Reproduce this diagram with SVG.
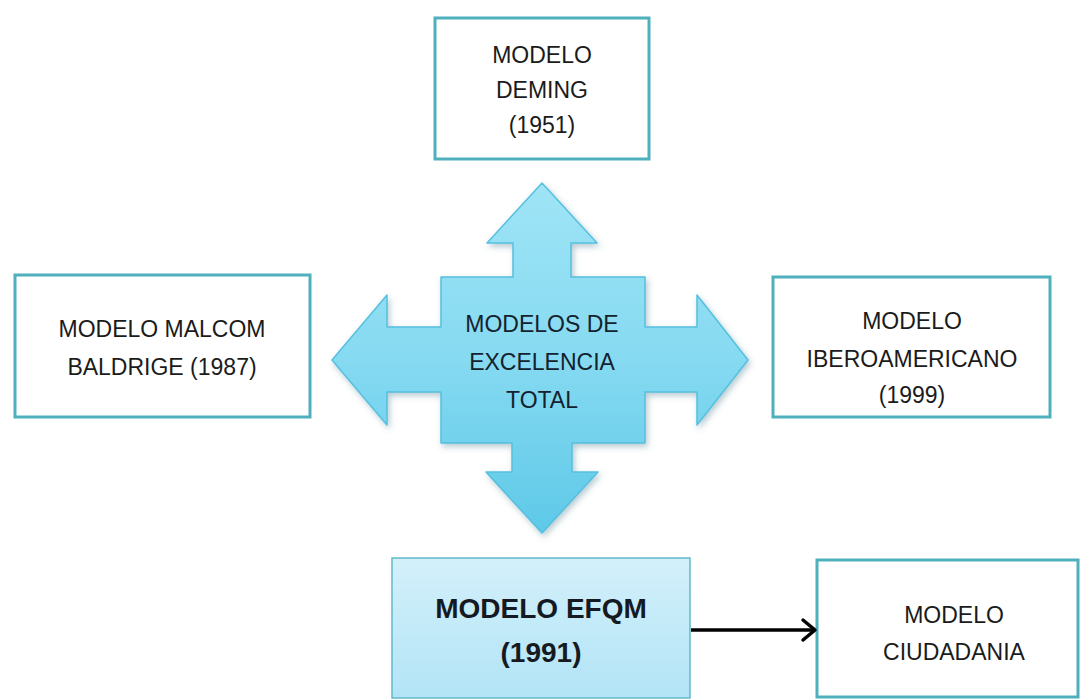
<svg xmlns="http://www.w3.org/2000/svg" width="1083" height="700" viewBox="0 0 1083 700">
<defs>
<linearGradient id="crossGrad" x1="0" y1="0" x2="0" y2="1">
<stop offset="0" stop-color="#9fe4f6"/>
<stop offset="0.5" stop-color="#86daf1"/>
<stop offset="1" stop-color="#5ec9e8"/>
</linearGradient>
<linearGradient id="efqmGrad" x1="0" y1="0" x2="0" y2="1">
<stop offset="0" stop-color="#d3f0fa"/>
<stop offset="1" stop-color="#b2e4f6"/>
</linearGradient>
<filter id="shadow" x="-20%" y="-20%" width="140%" height="140%">
<feDropShadow dx="2" dy="3" stdDeviation="3" flood-color="#5a8a99" flood-opacity="0.45"/>
</filter>
</defs>
<style>
.box{fill:#ffffff;stroke:#4fb0bd;stroke-width:3}
.t{font-family:"Liberation Sans",Arial,sans-serif;font-size:23px;fill:#1b1b1b;text-anchor:middle}
.tb{font-family:"Liberation Sans",Arial,sans-serif;font-size:28px;font-weight:bold;fill:#151a22;text-anchor:middle}
.ct{font-family:"Liberation Sans",Arial,sans-serif;font-size:23px;fill:#14222e;text-anchor:middle}
</style>
<rect width="1083" height="700" fill="#ffffff"/>

<g id="center">
<path filter="url(#shadow)" fill="url(#crossGrad)" stroke="#56c0df" stroke-width="1.5" stroke-linejoin="round" d="M542,183 L597,243 L571,243 L571,277 L645,277 L645,327 L697,327 L697,295 L748,360 L697,425 L697,392 L645,392 L645,443 L572,443 L572,472 L598,472 L542,533 L486,472 L512,472 L512,443 L441,443 L441,392 L387,392 L387,425 L332,360 L387,295 L387,327 L441,327 L441,277 L513,277 L513,243 L487,243 Z"/>
<text class="ct" x="542" y="332">MODELOS DE</text>
<text class="ct" x="542" y="370">EXCELENCIA</text>
<text class="ct" x="542" y="408">TOTAL</text>
</g>

<g id="deming">
<rect class="box" x="435" y="18" width="214" height="141"/>
<text class="t" x="542" y="63">MODELO</text>
<text class="t" x="542" y="98">DEMING</text>
<text class="t" x="542" y="133">(1951)</text>
</g>

<g id="malcom">
<rect class="box" x="15" y="275" width="295" height="142"/>
<text class="t" x="162" y="337">MODELO MALCOM</text>
<text class="t" x="162" y="375">BALDRIGE (1987)</text>
</g>

<g id="ibero">
<rect class="box" x="773" y="277" width="277" height="140"/>
<text class="t" x="912" y="329">MODELO</text>
<text class="t" x="912" y="367">IBEROAMERICANO</text>
<text class="t" x="912" y="403">(1999)</text>
</g>

<g id="efqm">
<rect x="392" y="558" width="298" height="140" fill="url(#efqmGrad)" stroke="#62b9c9" stroke-width="1.5"/>
<text class="tb" x="541" y="618">MODELO EFQM</text>
<text class="tb" x="541" y="662">(1991)</text>
</g>

<g id="ciudadania">
<rect class="box" x="817" y="560" width="261" height="137"/>
<text class="t" x="954" y="623">MODELO</text>
<text class="t" x="954" y="660">CIUDADANIA</text>
</g>

<g id="connectors">
<line x1="691" y1="630" x2="813" y2="630" stroke="#000000" stroke-width="3.5"/>
<polyline points="803,620 815,630 803,640" fill="none" stroke="#000000" stroke-width="3.5" stroke-linecap="round" stroke-linejoin="round"/>
</g>
</svg>
